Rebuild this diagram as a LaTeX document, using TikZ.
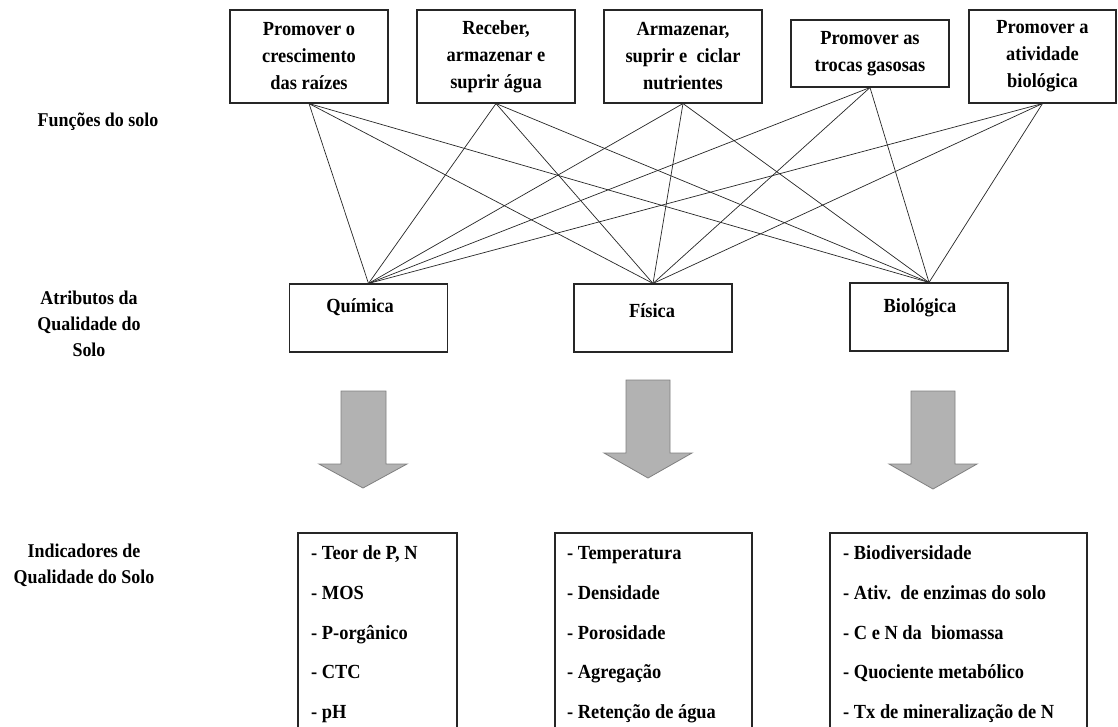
\documentclass[tikz,border=0pt]{standalone}
\usepackage{fontspec}
\setmainfont[FakeStretch=0.92]{Liberation Serif}
\begin{document}
\begin{tikzpicture}[x=1pt,y=-1pt,
  fbox/.style={draw=black!85,line width=1.1pt,inner sep=0pt,minimum width=158pt,minimum height=93pt},
  abox/.style={draw=black!85,line width=1.1pt,inner sep=0pt,minimum width=158pt,minimum height=68pt},
  txt/.style={font=\bfseries\fontsize{20}{27}\selectfont,align=center,inner sep=0pt,text=black},
  side/.style={font=\bfseries\fontsize{19.5}{26}\selectfont,align=center,inner sep=0pt,text=black},
  item/.style={font=\bfseries\fontsize{20}{21}\selectfont,anchor=base west,inner sep=0pt,text=black},
  link/.style={draw=black!85,line width=0.7pt},
  bigarrow/.style={fill=black!30,draw=black!50,line width=0.8pt,line join=miter},
  ibox/.style={draw=black!85,line width=1.1pt}]
\clip (0,0) rectangle (1118,726);
\fill[white] (0,0) rectangle (1118,726);

% top function boxes
\node[fbox,txt] (t1) at (309,56.5) {Promover o\\crescimento\\das raízes};
\node[fbox,txt] (t2) at (496,56.5) {Receber,\\armazenar e\\suprir água};
\node[fbox,txt] (t3) at (683,56.5) {Armazenar,\\suprir e\ \ ciclar\\nutrientes};
\node[fbox,txt,minimum height=67pt] (t4) at (870,53.5) {Promover as\\trocas gasosas};
\node[fbox,txt,minimum width=147pt] (t5) at (1042.5,56.5) {Promover a\\atividade\\biológica};

% left labels
\node[side] (l1) at (98,122) {Funções do solo};
\node[side] (l2) at (89,324) {Atributos da\\Qualidade do\\Solo};
\node[side] (l3) at (84,565) {Indicadores de\\Qualidade do Solo};

% attribute boxes
\node[abox] (q) at (368.5,318) {};
\node[abox] (f) at (653,318) {};
\node[abox] (b) at (929,317) {};
\node[txt] (qt) at (360,307) {Química};
\node[txt] (ft) at (652,311) {Física};
\node[txt] (bt) at (920,308) {Biológica};

% connectors
\foreach \t in {t1,t2,t3,t4,t5}{
  \foreach \a in {q,f,b}{
    \draw[link] (\t.south) -- (\a.north);
  }
}

% big arrows
\draw[bigarrow] (341,391) -- (386,391) -- (386,464) -- (407,464) -- (363,488) -- (319,464) -- (341,464) -- cycle;
\draw[bigarrow] (626,380) -- (670,380) -- (670,453) -- (692,453) -- (648,478) -- (604,453) -- (626,453) -- cycle;
\draw[bigarrow] (911,391) -- (955,391) -- (955,464) -- (977,464) -- (933,489) -- (889,464) -- (911,464) -- cycle;

% indicator boxes
\draw[ibox] (298,745) -- (298,533) -- (457,533) -- (457,745);
\draw[ibox] (555,745) -- (555,533) -- (752,533) -- (752,745);
\draw[ibox] (830,745) -- (830,533) -- (1087,533) -- (1087,745);

\node[item] (a1) at (311,559) {- Teor de P, N};
\node[item] (a2) at (311,599) {- MOS};
\node[item] (a3) at (311,639) {- P-orgânico};
\node[item] (a4) at (311,678) {- CTC};
\node[item] (a5) at (311,718) {- pH};

\node[item] (c1) at (567,559) {- Temperatura};
\node[item] (c2) at (567,599) {- Densidade};
\node[item] (c3) at (567,639) {- Porosidade};
\node[item] (c4) at (567,678) {- Agregação};
\node[item] (c5) at (567,718) {- Retenção de água};

\node[item] (d1) at (843,559) {- Biodiversidade};
\node[item] (d2) at (843,599) {- Ativ.\ \ de enzimas do solo};
\node[item] (d3) at (843,639) {- C e N da\ \ biomassa};
\node[item] (d4) at (843,678) {- Quociente metabólico};
\node[item] (d5) at (843,718) {- Tx de mineralização de N};
\end{tikzpicture}
\end{document}
